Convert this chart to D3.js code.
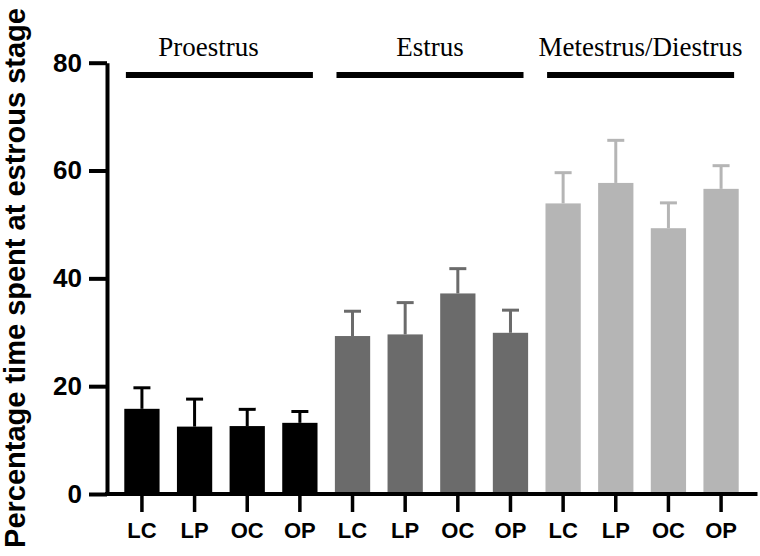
<!DOCTYPE html>
<html>
<head>
<meta charset="utf-8">
<script src="https://cdn.jsdelivr.net/npm/d3@7"></script>
<style>
  html, body { margin: 0; padding: 0; background: #fff; }
  svg { display: block; }
</style>
</head>
<body>
<div id="chart"></div>
<script>
// ---- data ----
const stages = ["Proestrus", "Estrus", "Metestrus/Diestrus"];
const groups = ["LC", "LP", "OC", "OP"];
const proestrusMean = [15.8, 12.5, 12.6, 13.2];
const proestrusSem  = [3.9, 5.1, 3.1, 2.1];
const estrusMean    = [29.3, 29.6, 37.2, 29.9];
const estrusSem     = [4.6, 5.9, 4.6, 4.2];
const metDiMean     = [53.9, 57.7, 49.3, 56.6];
const metDiSem      = [5.7, 7.9, 4.7, 4.3];
const yTicks = [0, 20, 40, 60, 80];
const yTitle = "Percentage time spent at estrous stage";
const stageColors = ["#000000", "#6b6b6b", "#b5b5b5"];

const means = [proestrusMean, estrusMean, metDiMean];
const sems = [proestrusSem, estrusSem, metDiSem];

const rows = [];
stages.forEach((s, si) => {
  groups.forEach((g, gi) => {
    rows.push({ key: s + "|" + g, stage: si, group: g, mean: means[si][gi], sem: sems[si][gi] });
  });
});

// ---- layout ----
const W = 760, H = 556;
const axisX = 107, axisRight = 757.5;
const svg = d3.select("#chart").append("svg").attr("width", W).attr("height", H);

const x = d3.scaleBand()
  .domain(rows.map(d => d.key))
  .range([115.6, 747.4])
  .paddingInner(0.33)
  .paddingOuter(0.165);

const y = d3.scaleLinear().domain([0, 80]).range([494, 62.7]);

// bars
svg.append("g").selectAll("rect").data(rows).join("rect")
  .attr("x", d => x(d.key))
  .attr("width", x.bandwidth())
  .attr("y", d => y(d.mean))
  .attr("height", d => y(0) - y(d.mean))
  .attr("fill", d => stageColors[d.stage]);

// error bars (upward)
const eb = svg.append("g").selectAll("g").data(rows).join("g")
  .attr("stroke", d => stageColors[d.stage])
  .attr("stroke-width", 3);
eb.append("line")
  .attr("x1", d => x(d.key) + x.bandwidth() / 2)
  .attr("x2", d => x(d.key) + x.bandwidth() / 2)
  .attr("y1", d => y(d.mean))
  .attr("y2", d => y(d.mean + d.sem));
eb.append("line")
  .attr("x1", d => x(d.key) + x.bandwidth() / 2 - 8.5)
  .attr("x2", d => x(d.key) + x.bandwidth() / 2 + 8.5)
  .attr("y1", d => y(d.mean + d.sem))
  .attr("y2", d => y(d.mean + d.sem));

// y axis
const yAxis = svg.append("g")
  .attr("transform", `translate(${axisX},0)`)
  .call(d3.axisLeft(y).tickValues(yTicks).tickSize(18).tickPadding(7).tickSizeOuter(0));
yAxis.select(".domain").attr("stroke", "#000").attr("stroke-width", 4);
yAxis.selectAll(".tick line").attr("stroke", "#000").attr("stroke-width", 4);
yAxis.selectAll(".tick text")
  .attr("fill", "#000")
  .style("font-family", "'Liberation Sans', Arial, sans-serif")
  .style("font-weight", "bold")
  .style("font-size", "26px");

// x axis
const xAxis = svg.append("g")
  .attr("transform", `translate(0,${y(0)})`)
  .call(d3.axisBottom(x).tickSize(18).tickPadding(10).tickSizeOuter(0).tickFormat(k => k.split("|")[1]));
xAxis.select(".domain").remove();
xAxis.append("line")
  .attr("x1", axisX - 2).attr("x2", axisRight)
  .attr("y1", 0).attr("y2", 0)
  .attr("stroke", "#000").attr("stroke-width", 4);
xAxis.selectAll(".tick line").attr("stroke", "#000").attr("stroke-width", 3.5);
xAxis.selectAll(".tick text")
  .attr("fill", "#000")
  .style("font-family", "'Liberation Sans', Arial, sans-serif")
  .style("font-weight", "bold")
  .style("font-size", "22px");

// stage brackets
const labelShift = [-11, 0, 0];
stages.forEach((s, si) => {
  const first = x(s + "|" + groups[0]);
  const last = x(s + "|" + groups[groups.length - 1]) + x.bandwidth();
  const x1 = first + 1.6, x2 = last - 4.6;
  svg.append("line")
    .attr("x1", x1).attr("x2", x2)
    .attr("y1", 75).attr("y2", 75)
    .attr("stroke", "#000").attr("stroke-width", 6);
  svg.append("text")
    .attr("x", (x1 + x2) / 2 + labelShift[si])
    .attr("y", 55.5)
    .attr("text-anchor", "middle")
    .style("font-family", "'Liberation Serif', 'Times New Roman', serif")
    .style("font-size", "27px")
    .attr("fill", "#000")
    .text(s);
});

// y title
svg.append("text")
  .attr("transform", "translate(25,278) rotate(-90)")
  .attr("text-anchor", "middle")
  .style("font-family", "'Liberation Sans', Arial, sans-serif")
  .style("font-weight", "bold")
  .style("font-size", "29px")
  .attr("fill", "#000")
  .text(yTitle);
</script>
</body>
</html>
